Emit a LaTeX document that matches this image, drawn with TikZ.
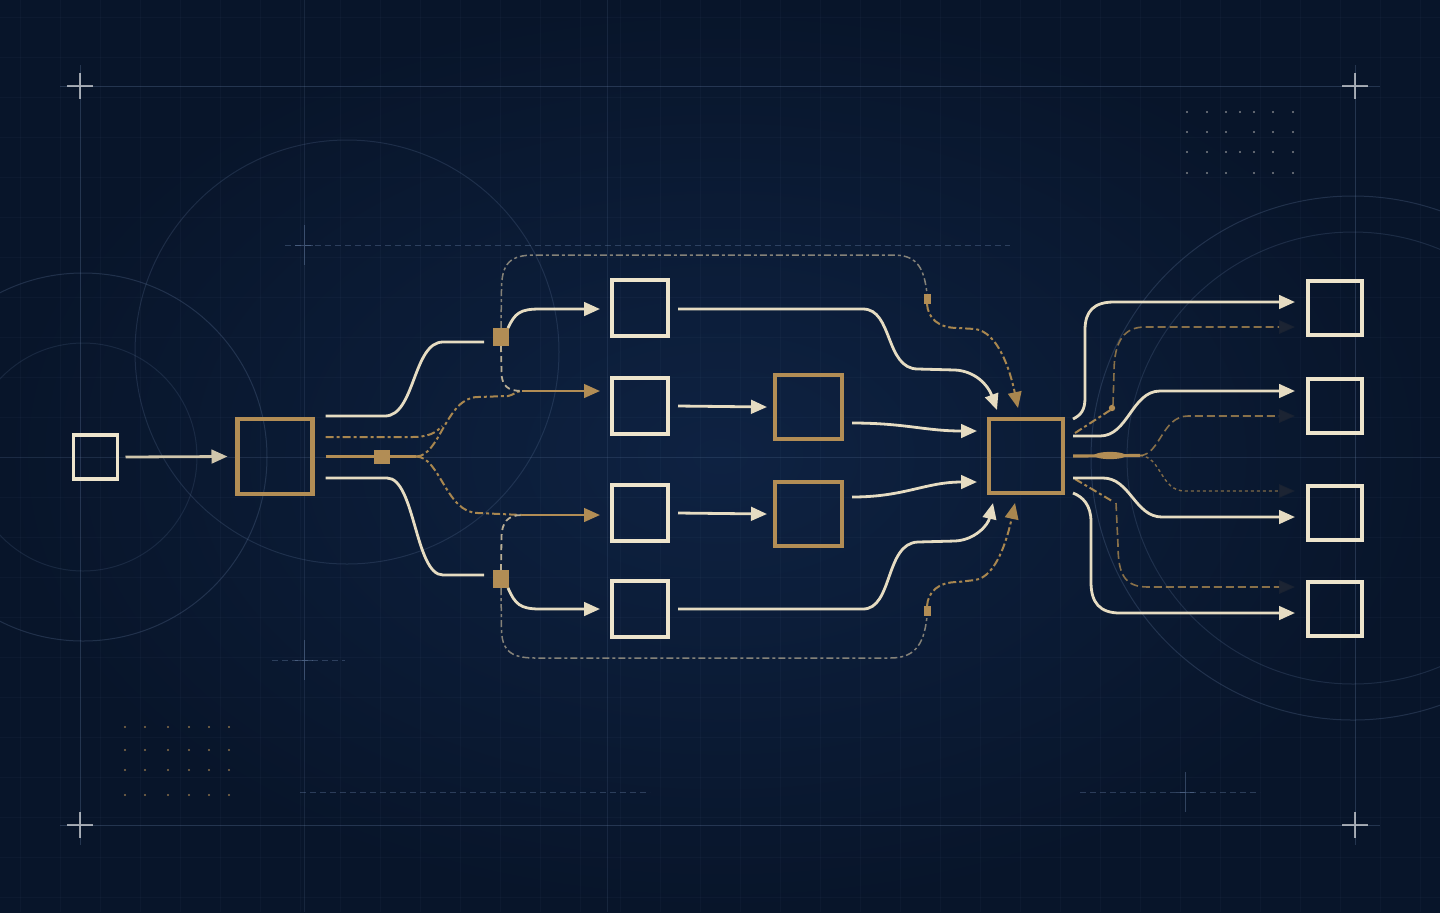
\documentclass[tikz,border=0pt]{standalone}
\usetikzlibrary{arrows.meta,calc}
\definecolor{bgin}{HTML}{0E2242}
\definecolor{bgout}{HTML}{08152A}
\definecolor{cream}{HTML}{EDE4CC}
\definecolor{creamline}{HTML}{E6DCC2}
\definecolor{creammute}{HTML}{CFC5AC}
\definecolor{gold}{HTML}{B28D55}
\definecolor{golddash}{HTML}{A8864F}
\definecolor{loopc}{HTML}{B9AE95}
\definecolor{ghost}{HTML}{1C2433}
\definecolor{gridc}{HTML}{6F88B0}
\tikzset{
  cbox/.style={draw=cream, line width=2pt, minimum size=28pt, inner sep=0pt, outer sep=0pt},
  gbox/.style={draw=gold, line width=2.2pt, inner sep=0pt, outer sep=0pt},
  jsq/.style={fill=gold, inner sep=0pt, outer sep=0pt, minimum width=8pt, minimum height=9pt},
  ksq/.style={fill=gold, inner sep=0pt, outer sep=0pt, minimum width=3.5pt, minimum height=5pt},
  cl/.style={draw=creamline, line width=1.4pt},
  gl/.style={draw=gold, line width=1.3pt},
  gd/.style={draw=golddash, line width=1pt, dash pattern=on 4pt off 1.5pt on 1.5pt off 1.5pt},
  gd2/.style={draw=golddash, line width=0.8pt, dash pattern=on 4pt off 2pt, draw opacity=0.8},
  gdot/.style={draw=golddash, line width=0.7pt, dash pattern=on 1.5pt off 1.5pt, draw opacity=0.75},
  faintd/.style={draw=loopc, line width=0.9pt, dash pattern=on 3pt off 2pt},
  loopd/.style={draw=loopc, line width=0.75pt, dash pattern=on 3.5pt off 1.5pt on 1.5pt off 1.5pt, draw opacity=0.7},
  arr/.style={-{Triangle[length=8pt,width=6.8pt]}},
  ghostarr/.style={-{Triangle[length=8pt,width=6.8pt,color=ghost]}},
  faintline/.style={draw=gridc, line width=0.4pt, draw opacity=0.15},
  majorline/.style={draw=gridc, line width=0.5pt, draw opacity=0.28},
  crossmark/.style={draw=white, line width=0.7pt, draw opacity=0.6},
  smallcross/.style={draw=gridc, line width=0.5pt, draw opacity=0.4},
  ring/.style={draw=gridc, line width=0.5pt, draw opacity=0.24},
  dot/.style={fill=#1, fill opacity=0.75},
}
\begin{document}
\begin{tikzpicture}[x=0.5pt,y=-0.5pt]
\useasboundingbox (0,0) rectangle (1440,912);
\shade[inner color=bgin, outer color=bgout] (0,0) rectangle (1440,912);
% fine grid
\foreach \gx in {20,60,...,1440} \draw[gridc, line width=0.3pt, opacity=0.05] (\gx,0) -- (\gx,912);
\foreach \gy in {17,57,...,912} \draw[gridc, line width=0.3pt, opacity=0.05] (0,\gy) -- (1440,\gy);
% major lines
\draw[faintline] (304,0) -- (304,912);
\draw[faintline] (607,0) -- (607,912);
\draw[faintline] (0,457) -- (1440,457);
\draw[majorline] (80,65) -- (80,845);
\draw[majorline] (1355,65) -- (1355,845);
\draw[majorline] (60,86) -- (1380,86);
\draw[majorline] (60,825) -- (1380,825);
\draw[faintline, dash pattern=on 3pt off 2pt, draw opacity=0.35] (285,245) -- (1010,245);
\draw[faintline, dash pattern=on 3pt off 2pt, draw opacity=0.35] (272,660) -- (345,660);
\draw[faintline, dash pattern=on 3pt off 2pt, draw opacity=0.35] (300,792) -- (650,792);
\draw[faintline, dash pattern=on 3pt off 2pt, draw opacity=0.35] (1080,792) -- (1260,792);
% corner crosses
\foreach \cx/\cy in {80/86,1355/86,80/825,1355/825}
  \draw[crossmark] (\cx-13,\cy) -- (\cx+13,\cy) (\cx,\cy-13) -- (\cx,\cy+13);
\foreach \cx/\cy in {304/245,304/660,1185/792}
  \draw[smallcross] (\cx-9,\cy) -- (\cx+9,\cy) (\cx,\cy-20) -- (\cx,\cy+20);
% rings
\draw[ring] (83,457) circle [radius=92pt];
\draw[ring, draw opacity=0.16] (83,457) circle [radius=57pt];
\draw[ring, draw opacity=0.2] (347,352) circle [radius=106pt];
\draw[ring] (1353,458) circle [radius=131pt];
\draw[ring, draw opacity=0.2] (1353,458) circle [radius=113pt];
% dot grids
\foreach \dy in {112,132,152,173}
  \foreach \dx in {1187,1207,1226,1254,1273,1293}
    \fill[dot=gray!70] (\dx,\dy) circle [radius=0.55pt];
\fill[dot=gray!70] (1240,112) circle [radius=0.55pt];
\fill[dot=gray!70] (1240,152) circle [radius=0.55pt];
\foreach \dy in {727,750,770,795}
  \foreach \dx in {125,145,168,189,209,229}
    \fill[dot=gold] (\dx,\dy) circle [radius=0.6pt];

% ---------------- nodes
\node[cbox, minimum size=22pt, line width=1.6pt] (in) at (95.5,457) {};
\node[gbox, minimum size=37.5pt] (A) at (275,456.5) {};
\node[cbox] (B1) at (640,308) {};
\node[cbox] (B2) at (640,405.5) {};
\node[cbox] (B3) at (640,513) {};
\node[cbox] (B4) at (640,609) {};
\node[gbox, minimum width=33.5pt, minimum height=32pt, line width=2pt] (D1) at (808.5,407) {};
\node[gbox, minimum width=33.5pt, minimum height=32pt, line width=2pt] (D2) at (808.5,514) {};
\node[gbox, minimum size=37pt] (C) at (1026,456) {};
\node[cbox, minimum size=27pt] (E1) at (1334.5,307.5) {};
\node[cbox, minimum size=27pt] (E2) at (1334.5,405.5) {};
\node[cbox, minimum size=27pt] (E3) at (1334.5,513) {};
\node[cbox, minimum size=27pt] (E4) at (1334.5,609) {};
\coordinate (S) at (416,456.5);
\coordinate (M2) at (522,391);
\coordinate (M3) at (522,515);
\coordinate (G) at (1140,455.5);

% ---------------- left
\draw[cl, draw=creammute, arr] ([xshift=4pt]in.east) -- ([xshift=-5pt]A.west);
\draw[cl] ([shift={(13,-40.5)}]A.east) -- (385,416) .. controls (415,416) and (413,342) .. (443,342) -- (484,342);
\draw[gd] ([shift={(13,-19.5)}]A.east) -- (412,437) .. controls (428,437) and (436,433) .. (442,426);
\draw[gl] ([shift={(13,0)}]A.east) -- (S);
\draw[gd] (S) .. controls (440,456.5) and (446,397) .. (478,397) -- (508,396) .. controls (514,395) and (516,391) .. (M2);
\draw[gd] (S) .. controls (440,456.5) and (446,513) .. (478,513) -- (M3);
\draw[cl] ([shift={(13,21.5)}]A.east) -- (387,478) .. controls (415,478) and (415,575) .. (443,575) -- (484,575);

\node[jsq, minimum height=7pt] (J0) at (382,456.5) {};
\node[jsq] (J1) at (501,337) {};
\node[jsq] (J2) at (501,579) {};

\draw[gl, arr] (M2) -- ([shift={(-12,-14.5)}]B2.west);
\draw[gl, arr] (M3) -- ([shift={(-12,2)}]B3.west);
\draw[cl, arr] ([shift={(-1,0)}]J1.north east) .. controls (515,313) and (520,309) .. (540,309) -- ([shift={(-12,1)}]B1.west);
\draw[cl, arr] ([shift={(-1,0)}]J2.south east) .. controls (515,604) and (520,609) .. (540,609) -- ([shift={(-12,0)}]B4.west);
\draw[faintd] (J1.south) -- (501.5,372) .. controls (501.5,386) and (508,391) .. (M2);
\draw[faintd] (J2.north) -- (501.5,538) .. controls (501.5,522) and (508,515) .. (M3);

% loops
\node[ksq] (K1) at (927,299) {};
\node[ksq] (K2) at (927,611) {};
\draw[loopd] (J1.north) -- (501.5,290) .. controls (501.5,263) and (510,255) .. (535,255) -- (893,255) .. controls (915,255) and (924,265) .. (K1.north);
\draw[loopd] (J2.south) -- (501.5,628) .. controls (501.5,650) and (510,658) .. (535,658) -- (890,658) .. controls (912,658) and (924,648) .. (K2.south);
\draw[gd, arr] (K1.south) .. controls (928,318) and (938,328) .. (958,328) -- (975,329) .. controls (998,332) and (1010,370) .. ([shift={(-8,-11)}]C.north);
\draw[gd, arr] (K2.north) .. controls (928,592) and (938,582) .. (958,582) -- (975,580) .. controls (996,577) and (1007,540) .. ([shift={(-11,10)}]C.south);

% middle
\draw[cl, arr] ([shift={(10,1)}]B1.east) -- (863,309) .. controls (893,309) and (885,369) .. (918,369) -- (955,370) .. controls (975,371) and (988,385) .. ([shift={(-29,-9)}]C.north);
\draw[cl, arr] ([shift={(10,0)}]B4.east) -- (863,609) .. controls (893,609) and (885,543) .. (918,542) -- (955,541) .. controls (975,540) and (988,525) .. ([shift={(-33,10)}]C.south);
\draw[cl, arr] ([shift={(10,0.5)}]B2.east) -- ([shift={(-8,0)}]D1.west);
\draw[cl, arr] ([shift={(10,0)}]B3.east) -- ([shift={(-8,0)}]D2.west);
\draw[cl, arr] ([shift={(10,16)}]D1.east) .. controls (905,423) and (925,431) .. ([shift={(-12,-25)}]C.west);
\draw[cl, arr] ([shift={(10,-17)}]D2.east) .. controls (905,497) and (925,482) .. ([shift={(-12,26)}]C.west);

% right ghost lines
\draw[gd] ([shift={(12,-23)}]C.east) -- (1112,409);
\fill[gold] (1112,408) circle [radius=1.6pt];
\draw[gd2, ghostarr] (1113,405) -- (1114,372) .. controls (1114,340) and (1125,327) .. (1145,327) -- ([shift={(-12.5,19.5)}]E1.west);
\draw[gl, line width=1.6pt] ([shift={(10,0)}]C.east) -- (G);
\fill[gold] (1110,455.5) ellipse [x radius=8pt, y radius=1.8pt];
\draw[gd2, ghostarr] (G) .. controls (1160,455) and (1162,416) .. (1188,416) -- ([shift={(-12.5,10.5)}]E2.west);
\draw[gdot, ghostarr] (G) .. controls (1162,457) and (1160,491) .. (1185,491) -- ([shift={(-12.5,-22)}]E3.west);
\draw[gd] ([shift={(12,23)}]C.east) -- (1112,501);
\draw[gd2, ghostarr] (1116,503) -- (1118,545) .. controls (1118,575) and (1125,587) .. (1148,587) -- ([shift={(-12.5,-22)}]E4.west);

% right solid
\draw[cl, arr] ([shift={(10,-37)}]C.east) .. controls (1081,415) and (1085,410) .. (1085,398) -- (1085,330) .. controls (1085,311) and (1094,302) .. (1114,302) -- ([shift={(-12.5,-5.5)}]E1.west);
\draw[cl, arr] ([shift={(10,-20)}]C.east) -- (1100,436) .. controls (1128,436) and (1132,391) .. (1160,391) -- ([shift={(-12.5,-14.5)}]E2.west);
\draw[cl, arr] ([shift={(10,22)}]C.east) -- (1103,478) .. controls (1130,478) and (1135,517) .. (1162,517) -- ([shift={(-12.5,4)}]E3.west);
\draw[cl, arr] ([shift={(10,37)}]C.east) .. controls (1083,497) and (1091,505) .. (1091,522) -- (1091,582) .. controls (1091,603) and (1100,613) .. (1120,613) -- ([shift={(-12.5,4)}]E4.west);
\end{tikzpicture}
\end{document}
